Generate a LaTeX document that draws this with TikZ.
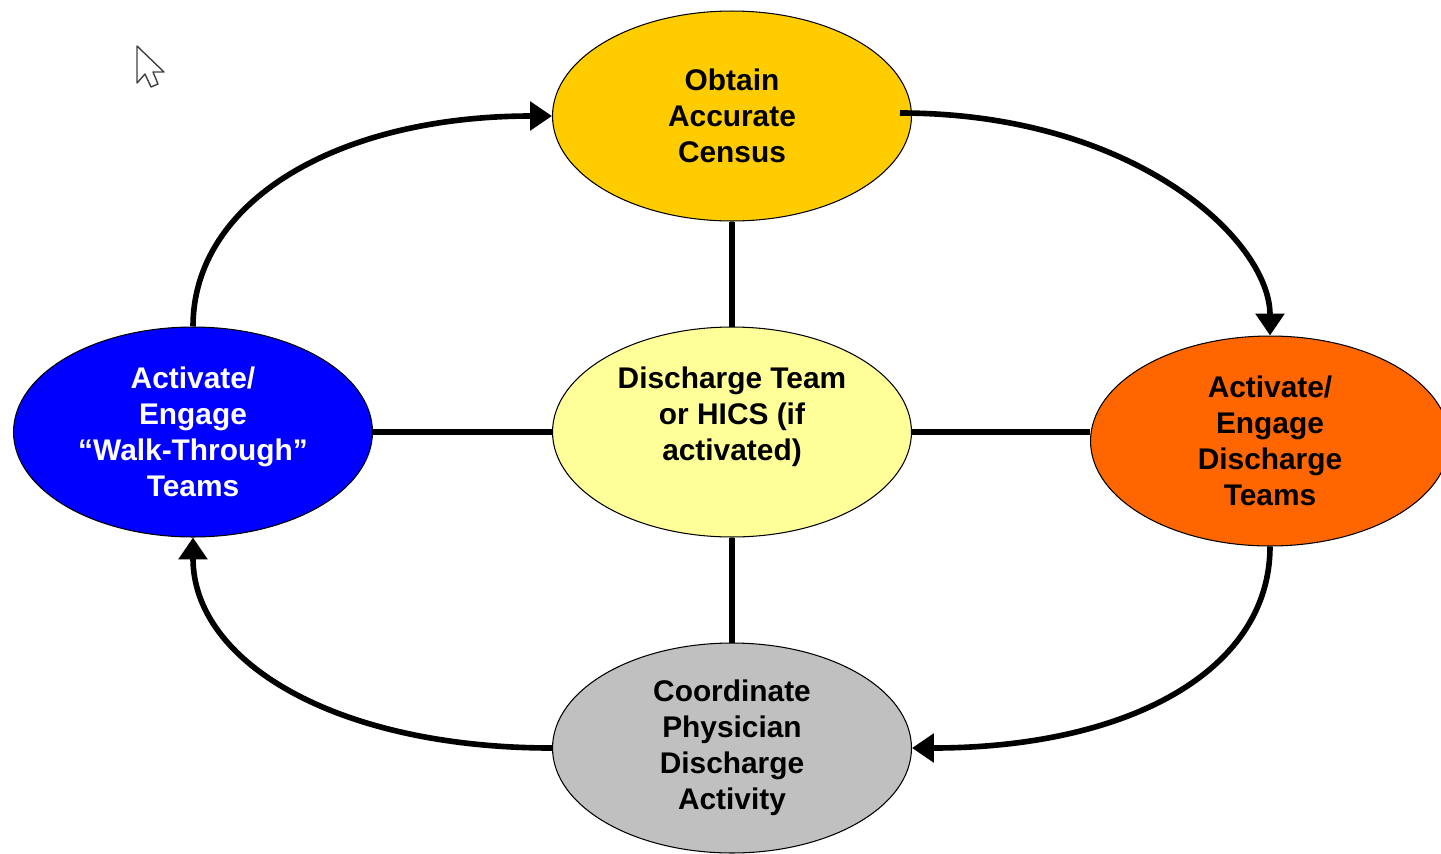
\documentclass[tikz,border=0pt]{standalone}
\usepackage{fontspec}
\setmainfont{Liberation Sans}
\usetikzlibrary{shapes,arrows.meta}

\definecolor{censusgold}{HTML}{FFCC00}
\definecolor{hubyellow}{HTML}{FFFF99}
\definecolor{walkblue}{HTML}{0000FF}
\definecolor{teamorange}{HTML}{FF6600}
\definecolor{docgray}{HTML}{C0C0C0}

\begin{document}
\begin{tikzpicture}[x=0.02cm, y=-0.02cm,
	every node/.style={ellipse, draw=black, line width=0.6pt, minimum width=7.18cm, minimum height=4.2cm,
		inner sep=0pt, align=center, font=\bfseries\fontsize{17}{20.5}\selectfont},
	link/.style={line width=3.2pt},
	flow/.style={line width=3.2pt, -{Triangle[width=16pt,length=12.5pt]}}]
\useasboundingbox (0,0) rectangle (1441,853);

% mouse pointer
\draw[fill=white, draw=black!75, line width=0.8pt, line join=round]
	(137,46) -- (137,83) -- (145,74) -- (151,87) -- (158,84) -- (153,72) -- (164,72) -- cycle;

% stages
\node[fill=censusgold] (census) at (732,116) {Obtain\\Accurate\\Census};
\node[fill=hubyellow] (hub) at (732,432) {Discharge Team\\or HICS (if\\activated)\\[-6pt]\strut};
\node[fill=walkblue, text=white] (walk) at (193,432) {Activate/\\Engage\\``Walk-Through''\\Teams};
\node[fill=teamorange] (teams) at (1270,441) {Activate/\\Engage\\Discharge\\Teams};
\node[fill=docgray] (physician) at (732,748) {Coordinate\\Physician\\Discharge\\Activity};

% spokes
\draw[link] (census) -- (hub);
\draw[link] (hub) -- (physician);
\draw[link] (walk) -- (hub);
\draw[link] (hub.east) -- (teams.west |- hub.east);

% cycle
\draw[flow] (walk.north) .. controls +(0,-125) and +(-215,0) .. (census.west);
\draw[flow] ([shift={(-12,-3)}]census.east) .. controls +(235,0) and +(0,-95) .. (teams.north);
\draw[flow] (teams.south) .. controls +(0,125) and +(215,0) .. (physician.east);
\draw[flow] (physician.west) .. controls +(-215,0) and +(0,125) .. (walk.south);
\end{tikzpicture}
\end{document}
